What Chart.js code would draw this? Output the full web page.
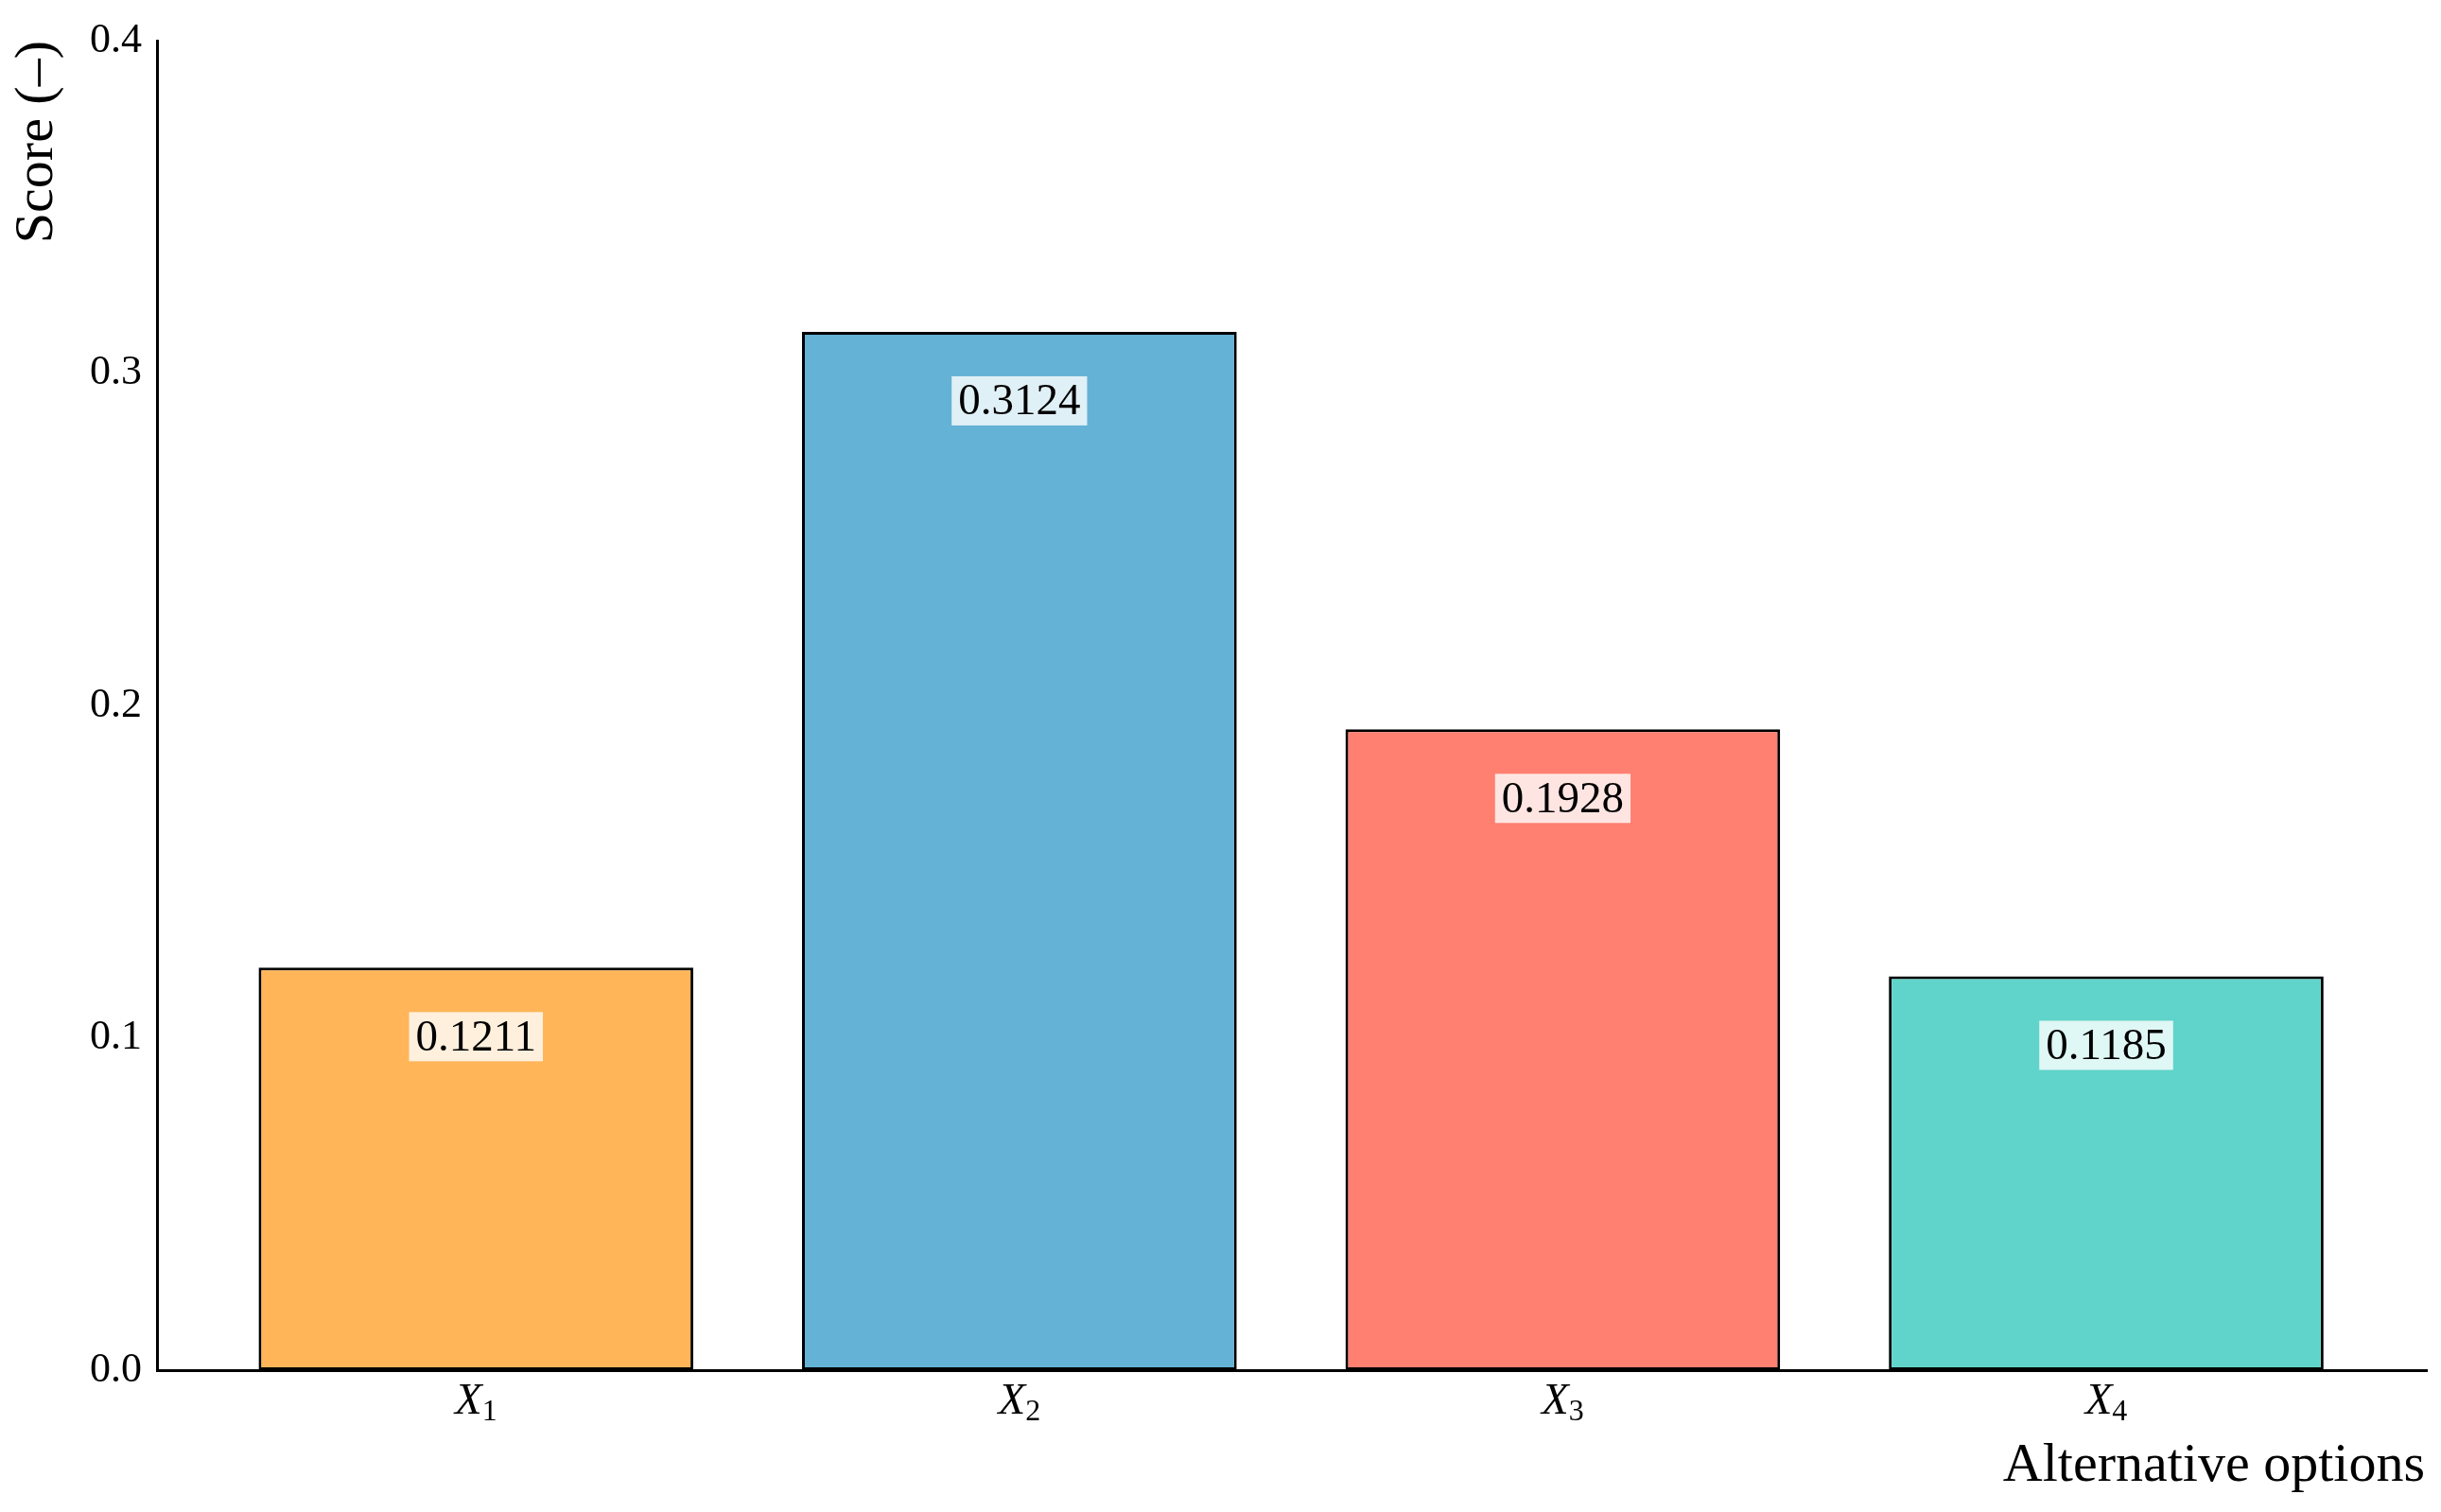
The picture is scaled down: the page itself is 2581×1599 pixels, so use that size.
<!DOCTYPE html>
<html>
<head>
<meta charset="utf-8">
<script src="https://cdn.jsdelivr.net/npm/chart.js@4.4.1/dist/chart.umd.min.js"></script>
<style>
  html, body { margin: 0; padding: 0; background: #ffffff; }
  #wrap { width: 2581px; height: 1599px; }
</style>
</head>
<body>
<div id="wrap"><canvas id="scoreChart" width="2581" height="1599"></canvas></div>
<script>
// --- data ---
const optionNames = ['1', '2', '3', '4'];          // subscripts of X
const scores = [0.1211, 0.3124, 0.1928, 0.1185];
const barColors = ['#FFB558', '#64B2D5', '#FF7F70', '#60D4CA'];
const yTicks = [0, 0.1, 0.2, 0.3, 0.4];
const xTitle = 'Alternative options';
const yTitle = 'Score (\u2013)';

const serif = "'Liberation Serif', 'DejaVu Serif', serif";

// value labels inside the bars, on a light box
const valueLabels = {
    id: 'valueLabels',
    afterDatasetsDraw(chart) {
        const ctx = chart.ctx;
        const meta = chart.getDatasetMeta(0);
        ctx.save();
        ctx.font = '47px ' + serif;
        ctx.textAlign = 'center';
        ctx.textBaseline = 'middle';
        meta.data.forEach(function(bar, i) {
            const text = scores[i].toFixed(4);
            const w = ctx.measureText(text).width + 14;
            const h = 52;
            const cy = bar.y + 73;
            ctx.fillStyle = 'rgba(255,255,255,0.8)';
            ctx.fillRect(bar.x - w / 2, cy - h / 2, w, h);
            ctx.fillStyle = '#000';
            ctx.fillText(text, bar.x, cy + 2);
        });
        ctx.restore();
    }
};

// italic X with an upright subscript under each bar, plus the axis titles
const axisText = {
    id: 'axisText',
    afterDraw(chart) {
        const ctx = chart.ctx;
        const xs = chart.scales.x;
        const area = chart.chartArea;
        ctx.save();
        ctx.fillStyle = '#000';
        ctx.textBaseline = 'alphabetic';
        optionNames.forEach(function(sub, i) {
            const cx = xs.getPixelForValue(i);
            ctx.font = 'italic 47px ' + serif;
            const wX = ctx.measureText('X').width;
            ctx.font = '32px ' + serif;
            const wS = ctx.measureText(sub).width;
            const left = cx - (wX + wS) / 2;
            ctx.font = 'italic 47px ' + serif;
            ctx.textAlign = 'left';
            ctx.fillText('X', left, area.bottom + 46);
            ctx.font = '32px ' + serif;
            ctx.fillText(sub, left + wX, area.bottom + 53);
        });

        ctx.font = '58px ' + serif;
        ctx.textAlign = 'right';
        ctx.fillText(xTitle, area.right - 2, area.bottom + 117);

        ctx.translate(55, area.top);
        ctx.rotate(-Math.PI / 2);
        ctx.textAlign = 'right';
        ctx.fillText(yTitle, 0, 0);
        ctx.restore();
    }
};

const ctx = document.getElementById('scoreChart');
new Chart(ctx, {
    type: 'bar',
    data: {
        datasets: [{
            data: scores.map(function(v, i) { return { x: i, y: v }; }),
            backgroundColor: barColors,
            borderColor: '#000000',
            borderWidth: 3,
            borderSkipped: false,
            categoryPercentage: 1.0,
            barPercentage: 0.8
        }]
    },
    options: {
        responsive: false,
        animation: false,
        devicePixelRatio: 1,
        layout: {
            padding: { left: 93, right: 15, top: 43, bottom: 0 }
        },
        plugins: {
            legend: { display: false },
            tooltip: { enabled: false }
        },
        scales: {
            x: {
                type: 'linear',
                offset: false,
                min: -0.587,
                max: 3.59,
                grid: { display: false, drawTicks: false, offset: false },
                border: { display: true, color: '#000', width: 3 },
                ticks: { display: false },
                afterBuildTicks: function(scale) {
                    scale.ticks = optionNames.map(function(_, i) { return { value: i }; });
                },
                afterFit: function(scale) { scale.height = 150; }
            },
            y: {
                min: 0,
                max: 0.4,
                grid: { display: false, drawTicks: false },
                border: { display: true, color: '#000', width: 3 },
                afterBuildTicks: function(scale) {
                    scale.ticks = yTicks.map(function(v) { return { value: v }; });
                },
                ticks: {
                    color: '#000',
                    padding: 16,
                    font: { family: serif, size: 44 },
                    callback: function(value) { return value.toFixed(1); }
                },
                afterFit: function(scale) { scale.width = 73; }
            }
        }
    },
    plugins: [valueLabels, axisText]
});
</script>
</body>
</html>
